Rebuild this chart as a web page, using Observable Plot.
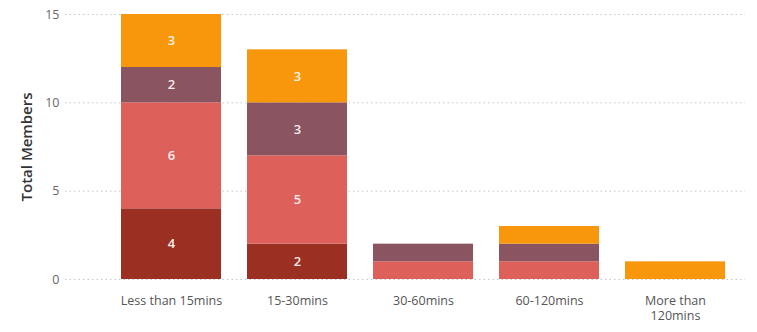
<!DOCTYPE html>
<html>
<head>
<meta charset="utf-8">
<script src="https://cdn.jsdelivr.net/npm/d3@7"></script>
<script src="https://cdn.jsdelivr.net/npm/@observablehq/plot@0.6"></script>
<style>
  html, body { margin: 0; padding: 0; background: #fff; }
  #chart svg { display: block; }
</style>
</head>
<body>
<div id="chart"></div>
<script>
const categories = ["Less than 15mins", "15-30mins", "30-60mins", "60-120mins", "More than 120mins"];
const tickLabels = ["Less than 15mins", "15-30mins", "30-60mins", "60-120mins", "More than\n120mins"];
const seriesNames = ["Group 1", "Group 2", "Group 3", "Group 4"];
const group1 = [4, 2, 0, 0, 0];
const group2 = [6, 5, 1, 1, 0];
const group3 = [2, 3, 1, 1, 0];
const group4 = [3, 3, 0, 1, 1];
const seriesColors = ["#9b2f22", "#de605b", "#8a5461", "#f8960c"];
const yTicks = [0, 5, 10, 15];

const seriesValues = [group1, group2, group3, group4];
const rows = [];
seriesNames.forEach((s, si) => {
  categories.forEach((c, ci) => {
    const v = seriesValues[si][ci];
    if (v > 0) rows.push({category: c, series: s, value: v});
  });
});
const labelOf = new Map(categories.map((c, i) => [c, tickLabels[i]]));

const chart = Plot.plot({
  width: 757,
  height: 332,
  marginTop: 14,
  marginBottom: 53,
  marginLeft: 65,
  marginRight: 12,
  style: {fontFamily: "'Open Sans', 'Noto Sans', sans-serif", background: "#fff"},
  x: {domain: categories, paddingInner: 0.208, paddingOuter: 0.297, align: 0.733, label: null},
  y: {domain: [0, 15], label: null},
  color: {domain: seriesNames, range: seriesColors},
  marks: [
    Plot.gridY(yTicks, {stroke: "#c8c8c8", strokeOpacity: 1, strokeDasharray: "1.5,3", strokeWidth: 1}),
    Plot.barY(rows, {x: "category", y: "value", fill: "series"}),
    Plot.text(rows, Plot.stackY({
      x: "category", y: "value", z: "series",
      text: d => d.value > 1 ? String(d.value) : null,
      fill: "#fff", fillOpacity: 0.92, fontSize: 13, fontWeight: 600
    })),
    Plot.axisX({
      tickSize: 0, tickPadding: 14, fontSize: 12.5, color: "#555", lineHeight: 1.25,
      tickFormat: d => labelOf.get(d), label: null
    }),
    Plot.axisY(yTicks, {
      tickSize: 0, tickPadding: 6, fontSize: 12.5, color: "#666",
      label: "Total Members", labelAnchor: "center", labelArrow: "none", labelOffset: 44
    })
  ]
});
document.getElementById("chart").appendChild(chart);
// style the y-axis label
chart.querySelectorAll("g[aria-label='y-axis label'] text").forEach(t => {
  t.setAttribute("fill", "#333");
  t.setAttribute("font-size", "15");
  t.setAttribute("font-weight", "600");
});
</script>
</body>
</html>
